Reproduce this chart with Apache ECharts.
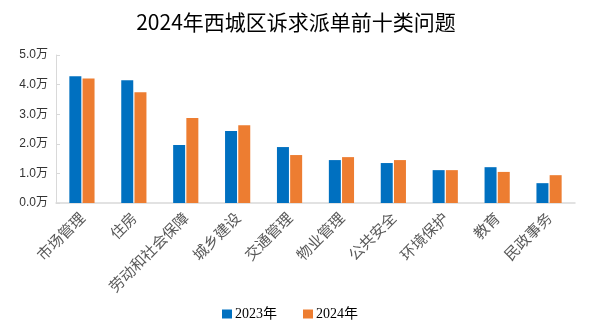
<!DOCTYPE html>
<html><head><meta charset="utf-8">
<script src="https://cdn.jsdelivr.net/npm/echarts@6/dist/echarts.min.js"></script>
<style>html,body{margin:0;padding:0;background:#fff}#c{width:592px;height:322px}</style>
</head><body><div id="c"></div>
<script>
const categories = ['市场管理','住房','劳动和社会保障','城乡建设','交通管理','物业管理','公共安全','环境保护','教育','民政事务'];
const values2023 = [4.28,4.15,1.96,2.43,1.89,1.45,1.35,1.11,1.21,0.67];
const values2024 = [4.21,3.74,2.87,2.63,1.62,1.55,1.45,1.11,1.05,0.94];
const seriesNames = ['2023年','2024年'];
const chart = echarts.init(document.getElementById('c'));
chart.setOption({
  animation:false,
  title:{text:'2024年西城区诉求派单前十类问题',left:'center',top:7,
    textStyle:{fontSize:21,fontWeight:'normal',color:'#000',fontFamily:'Noto Sans CJK SC'}},
  legend:{top:302,left:217,itemWidth:10,itemHeight:9,itemGap:26,icon:'rect',
    textStyle:{fontSize:14,color:'#000',fontFamily:'Liberation Serif, Noto Sans CJK SC',padding:[0,0,0,-2]},
    data:seriesNames},
  grid:{left:56,right:17,top:55,bottom:119,containLabel:false},
  xAxis:{type:'category',data:categories,
    axisLine:{lineStyle:{color:'#d9d9d9',width:1.5}},axisTick:{show:false},
    axisLabel:{rotate:45,interval:0,fontSize:15,color:'#595959',margin:12,
      fontFamily:'Noto Sans CJK SC'}},
  yAxis:{type:'value',min:0,max:5,interval:1,
    axisLine:{show:true,lineStyle:{color:'#d9d9d9'}},
    axisTick:{show:true,inside:true,length:4,lineStyle:{color:'#d9d9d9'}},
    splitLine:{show:false},
    axisLabel:{fontSize:12,color:'#333',margin:8,fontFamily:'Liberation Sans, Noto Sans CJK SC',
      formatter:v=>v.toFixed(1)+'万'}},
  series:[
    {name:seriesNames[0],type:'bar',data:values2023,barWidth:12,barGap:'10%',itemStyle:{color:'#0070C0'}},
    {name:seriesNames[1],type:'bar',data:values2024,barWidth:12,barGap:'10%',itemStyle:{color:'#ED7D31'}}
  ]
});
</script></body></html>
